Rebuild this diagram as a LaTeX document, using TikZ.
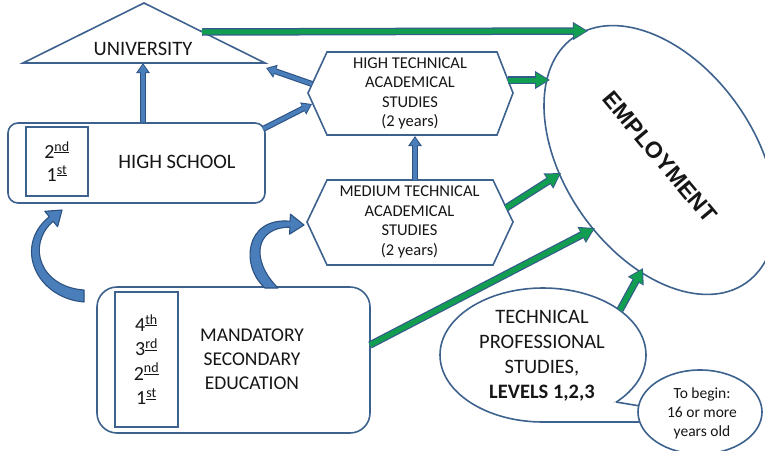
\documentclass[tikz,border=0pt]{standalone}
\usepackage{fontspec}
\setmainfont{Carlito}
\newfontfamily\empfont{Liberation Sans}
\usetikzlibrary{shapes.geometric, arrows.meta}

\definecolor{outline}{RGB}{62,98,142}
\definecolor{bluefill}{RGB}{74,126,187}
\definecolor{blueedge}{RGB}{44,82,130}
\definecolor{greenfill}{RGB}{18,158,80}
\definecolor{greenedge}{RGB}{52,92,138}
\definecolor{ink}{RGB}{22,22,22}

\newcommand{\grade}[2]{#1\textsuperscript{\underline{#2}}}

\tikzset{
  box/.style={draw=outline, line width=1.6pt, fill=white},
  txt/.style={text=ink, align=center, inner sep=0pt},
  bigtxt/.style={txt, font=\fontsize{20.5}{24.5}\selectfont},
  hextxt/.style={txt, font=\fontsize{16.5}{19.5}\selectfont},
  blueout/.style={draw=blueedge, line width=6pt, -{Triangle[length=10pt,width=13pt]}},
  bluein/.style={draw=bluefill, line width=3.8pt, shorten >=1.4pt, -{Triangle[length=8pt,width=9.5pt]}},
  curved/.style={fill=bluefill, draw=blueedge, line width=1.1pt, line join=round},
  greenout/.style={draw=greenedge, line width=7.5pt, -{Triangle[length=15pt,width=17pt]}},
  greenin/.style={draw=greenfill, line width=5pt, shorten >=1.6pt, -{Triangle[length=12.5pt,width=13.5pt]}},
}
\newcommand{\bluearrow}[1]{\draw[blueout] #1; \draw[bluein] #1;}
\newcommand{\greenarrow}[1]{\draw[greenout] #1; \draw[greenin] #1;}

\begin{document}
\begin{tikzpicture}[x=1pt, y=-1pt]
    \useasboundingbox (0,0) rectangle (765,450);

    % university
    \draw[box] (144,3) -- (265,63) -- (23,63) -- cycle;
    \node[bigtxt] (univ) at (143,49) {UNIVERSITY};

    % high school
    \node[box, rounded corners=10pt, minimum width=257pt, minimum height=80pt] (hs) at (136.5,163) {};
    \node[box, minimum width=62pt, minimum height=69pt] (hsyears) at (57,161.5) {};
    \node[bigtxt, font=\fontsize{20}{23}\selectfont] (hsgrades) at (hsyears) {\grade{2}{nd}\\\grade{1}{st}};
    \node[bigtxt] (hstxt) at (177,162) {HIGH SCHOOL};

    % mandatory secondary education
    \node[box, rounded corners=20pt, minimum width=273pt, minimum height=146pt] (mse) at (233.5,360) {};
    \node[box, minimum width=63pt, minimum height=135pt] (mseyears) at (146.5,359.5) {};
    \node[bigtxt, font=\fontsize{20}{24.4}\selectfont] (msegrades) at (mseyears) {\grade{4}{th}\\\grade{3}{rd}\\\grade{2}{nd}\\\grade{1}{st}};
    \node[bigtxt, font=\fontsize{19.5}{24}\selectfont] (msetxt) at (252,359) {MANDATORY\\SECONDARY\\EDUCATION};

    % academical studies
    \draw[box] (308,93) -- (327,52) -- (497,52) -- (513,93) -- (497,135) -- (327,135) -- cycle;
    \node[hextxt] (hta) at (410,93.5) {HIGH TECHNICAL\\ACADEMICAL\\STUDIES\\(2 years)};
    \draw[box] (307,222) -- (327,180) -- (493,180) -- (513,222) -- (493,265) -- (327,265) -- cycle;
    \node[hextxt] (mta) at (409.5,222) {MEDIUM TECHNICAL\\ACADEMICAL\\STUDIES\\(2 years)};

    % employment
    \node[ellipse, box, minimum width=300pt, minimum height=190pt, rotate=-55] (emp) at (660,160) {};
    \node[txt, font=\empfont\bfseries\fontsize{23}{23}\selectfont, rotate=-50] (emptxt) at (660,157) {EMPLOYMENT};

    % technical professional studies
    \draw[box] (543,355) ellipse [x radius=103, y radius=67];
    \fill[white] (616,402) -- (700,416) -- (700,422) -- (543,422) -- cycle;
    \draw[outline, line width=1.6pt] (616,402) -- (700,416) (543,422) -- (700,422);
    \node[bigtxt, font=\fontsize{20.5}{25}\selectfont] (tps) at (542,355.5) {TECHNICAL\\PROFESSIONAL\\STUDIES,\\\textbf{LEVELS 1,2,3}};
    \draw[box] (700,412) ellipse [x radius=62, y radius=42];
    \node[txt, font=\fontsize{15.5}{19}\selectfont] (age) at (702,413) {To begin:\\16 or more\\years old};

    % blue arrows
    \bluearrow{(hs.north -| univ) -- (143,63)}
    \bluearrow{(263,129) -- (312,104)}
    \bluearrow{(312,84) -- (266,68)}
    \bluearrow{(415,180) -- (415,136)}
    \draw[curved] (84,302) .. controls (36,298) and (13,246) .. (49.3,216.7) -- (44.8,211.3) -- (62,210)
        -- (57.6,226.7) -- (53.1,221.3) .. controls (26,245) and (40,287) .. (84,290) -- cycle;
    \draw[curved] (265,288) .. controls (240,266) and (245,217) .. (290,221.2) -- (290.5,214.2) -- (304,225)
        -- (289.5,234.2) -- (290,227.2) .. controls (255,227) and (250,260) .. (278,288) -- cycle;

    % green arrows
    \greenarrow{(202,32) -- (588,31)}
    \greenarrow{(508,80) -- (550,80)}
    \greenarrow{(506,208) -- (561,173)}
    \greenarrow{(370,345) -- (595,228)}
    \greenarrow{(620,310) -- (643,268)}
\end{tikzpicture}
\end{document}
